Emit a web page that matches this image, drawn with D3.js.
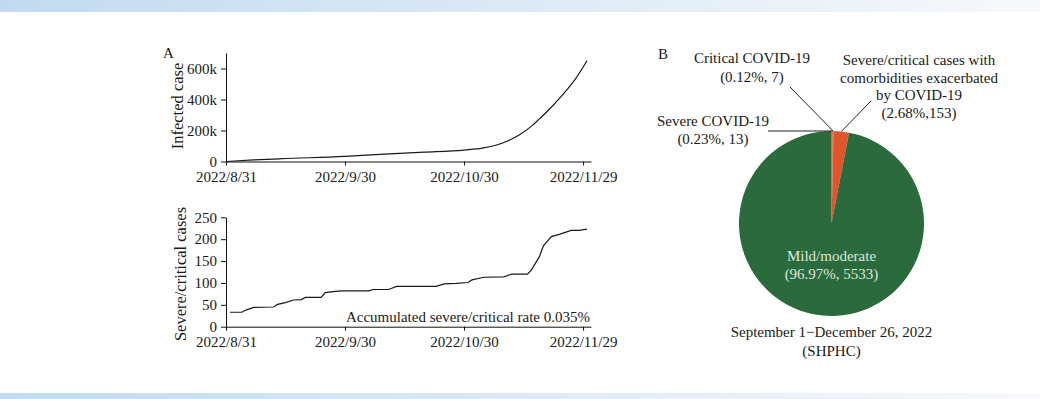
<!DOCTYPE html>
<html>
<head>
<meta charset="utf-8">
<script src="https://cdn.jsdelivr.net/npm/d3@7"></script>
<style>
body { margin: 0; background: #fff; }
svg { display: block; }
text { font-family: "Liberation Serif", "Times New Roman", serif; fill: #1a1a1a; }
</style>
</head>
<body>
<div id="my_dataviz"></div>
<script>
// --- data ---
var infected_dates = ['2022-08-31', '2022-09-07', '2022-09-14', '2022-09-30', '2022-10-10', '2022-10-20',
    '2022-10-30', '2022-11-04', '2022-11-07', '2022-11-10', '2022-11-13', '2022-11-16', '2022-11-18',
    '2022-11-21', '2022-11-23', '2022-11-25', '2022-11-27', '2022-11-30'];
var infected_values = [0, 10000, 18000, 33000, 48000, 60000, 74000, 88000, 105000, 132000, 172000,
    228000, 275000, 350000, 405000, 465000, 530000, 650000];

var severe_dates = ['2022-09-01', '2022-09-04', '2022-09-05', '2022-09-07', '2022-09-12', '2022-09-13',
    '2022-09-15', '2022-09-17', '2022-09-19', '2022-09-20', '2022-09-24', '2022-09-25', '2022-09-27',
    '2022-09-29', '2022-10-06', '2022-10-07', '2022-10-11', '2022-10-13', '2022-10-23', '2022-10-25',
    '2022-10-28', '2022-10-31', '2022-11-01', '2022-11-04', '2022-11-09', '2022-11-10', '2022-11-11',
    '2022-11-15', '2022-11-16', '2022-11-18', '2022-11-19', '2022-11-21', '2022-11-23', '2022-11-26',
    '2022-11-28', '2022-11-30'];
var severe_values = [33, 33, 38, 44, 45, 51, 55, 61, 62, 67, 67, 78, 80, 82, 82, 85, 85, 92, 92, 98,
    99, 101, 107, 113, 114, 117, 120, 120, 130, 160, 185, 206, 211, 220, 220, 223];

var x_tick_labels = ['2022/8/31', '2022/9/30', '2022/10/30', '2022/11/29'];
var infected_ticks = [0, 200000, 400000, 600000];
var severe_ticks = [0, 50, 100, 150, 200, 250];
var rate_note = 'Accumulated severe/critical rate 0.035%';

var pie_names = ['Severe COVID-19', 'Critical COVID-19', 'Severe/critical cases with comorbidities exacerbated by COVID-19', 'Mild/moderate'];
var pie_counts = [13, 7, 153, 5533];
var pie_pcts = ['0.23%', '0.12%', '2.68%', '96.97%'];
var pie_period = ['September 1\u2212December 26, 2022', '(SHPHC)'];

// --- setup ---
var width = 1040;
var height = 399;
var svg = d3.select('#my_dataviz').append('svg').attr('width', width).attr('height', height);

var defs = svg.append('defs');
var grad = defs.append('linearGradient').attr('id', 'band').attr('x1', '0%').attr('x2', '100%');
grad.append('stop').attr('offset', '0%').attr('stop-color', '#c2daf0');
grad.append('stop').attr('offset', '45%').attr('stop-color', '#dae8f5');
grad.append('stop').attr('offset', '100%').attr('stop-color', '#f8f9fb');

svg.append('rect').attr('x', 0).attr('y', 0).attr('width', width).attr('height', 12).attr('fill', 'url(#band)');
svg.append('rect').attr('x', 0).attr('y', 393).attr('width', width).attr('height', 6).attr('fill', 'url(#band)');

var parseDate = d3.timeParse('%Y-%m-%d');
var parseTick = d3.timeParse('%Y/%m/%d');
var tick_dates = x_tick_labels.map(function(s){ return parseTick(s); });

var x = d3.scaleTime().domain([parseDate('2022-08-31'), parseDate('2022-12-01')]).range([226, 591]);

var infected = infected_dates.map(function(d, i){ return {date: parseDate(d), value: infected_values[i]}; });
var severe = severe_dates.map(function(d, i){ return {date: parseDate(d), value: severe_values[i]}; });

function xAxis(g){
    g.call(d3.axisBottom(x).tickValues(tick_dates)
        .tickFormat(function(d, i){ return x_tick_labels[i]; })
        .tickSize(4).tickSizeOuter(0).tickPadding(6));
}

function styleAxis(g){
    g.selectAll('path, line').attr('stroke', '#111').attr('stroke-width', 1);
    g.selectAll('text').attr('font-size', 15).attr('font-family', '"Liberation Serif", serif').attr('fill', '#1a1a1a');
}

// --- panel A top: infected cases ---
var y1 = d3.scaleLinear().domain([0, 700000]).range([161.5, 53]);

var top_group = svg.append('g').attr('class', 'top_group');
top_group.append('g').attr('transform', 'translate(0,161.5)').call(xAxis).call(styleAxis);
top_group.append('g').attr('transform', 'translate(226,0)')
    .call(d3.axisLeft(y1).tickValues(infected_ticks)
        .tickFormat(function(d){ return d === 0 ? '0' : (d / 1000) + 'k'; })
        .tickSize(5).tickSizeOuter(0).tickPadding(4))
    .call(styleAxis);

top_group.append('path').datum(infected)
    .attr('d', d3.line().x(function(d){ return x(d.date); }).y(function(d){ return y1(d.value); }).curve(d3.curveMonotoneX))
    .attr('fill', 'none').attr('stroke', '#1a1a1a').attr('stroke-width', 1.2);

top_group.append('text').attr('transform', 'translate(182.5,106) rotate(-90)')
    .attr('text-anchor', 'middle').attr('font-size', 16.5).text('Infected case');

svg.append('text').attr('x', 163).attr('y', 58).attr('font-size', 15).text('A');

// --- panel A bottom: severe/critical cases ---
var y2 = d3.scaleLinear().domain([0, 250]).range([326.7, 217.3]);

var bot_group = svg.append('g').attr('class', 'bot_group');
bot_group.append('g').attr('transform', 'translate(0,326.7)').call(xAxis).call(styleAxis);
bot_group.append('g').attr('transform', 'translate(226,0)')
    .call(d3.axisLeft(y2).tickValues(severe_ticks).tickSize(5).tickSizeOuter(0).tickPadding(4))
    .call(styleAxis);

bot_group.append('path').datum(severe)
    .attr('d', d3.line().x(function(d){ return x(d.date); }).y(function(d){ return y2(d.value); }))
    .attr('fill', 'none').attr('stroke', '#1a1a1a').attr('stroke-width', 1.2);

bot_group.append('text').attr('transform', 'translate(185.5,274) rotate(-90)')
    .attr('text-anchor', 'middle').attr('font-size', 16.5).text('Severe/critical cases');

bot_group.append('text').attr('x', 590).attr('y', 322).attr('text-anchor', 'end')
    .attr('font-size', 15).text(rate_note);

// --- panel B: pie ---
var cx = 831.5, cy = 223.5, radius = 92.5;
var pie_data = pie_counts.map(function(c, i){ return {name: pie_names[i], count: c, pct: pie_pcts[i]}; });
var arcs = d3.pie().sort(null).value(function(d){ return d.count; }).startAngle(0)(pie_data);
var arc = d3.arc().innerRadius(0).outerRadius(radius);
var pie_colour = ['#e0552b', '#e0552b', '#e0552b', '#2b6a3d'];

var pie_group = svg.append('g').attr('transform', 'translate(' + cx + ',' + cy + ')');
pie_group.selectAll('.slice').data(arcs).enter().append('path')
    .attr('class', 'slice')
    .attr('d', arc)
    .attr('fill', function(d, i){ return pie_colour[i]; });

svg.append('text').attr('x', 663).attr('y', 59).attr('text-anchor', 'middle').attr('font-size', 15).text('B');

// leader lines from labels to the slice edge
function edgePoint(a){
    var m = (a.startAngle + a.endAngle) / 2;
    return [cx + radius * Math.sin(m), cy - radius * Math.cos(m)];
}
var leaders = [[768, edgePoint(arcs[0])[1]], [790, 87], [871, 101]];
var line_group = svg.append('g').attr('class', 'leaders');
for (var i = 0; i < 3; i++){
    var p = edgePoint(arcs[i]);
    line_group.append('line').attr('x1', leaders[i][0]).attr('y1', leaders[i][1])
        .attr('x2', p[0]).attr('y2', p[1])
        .attr('stroke', '#222').attr('stroke-width', 1);
}

var lab = svg.append('g').attr('class', 'pie_labels').attr('font-size', 15);
lab.append('text').attr('x', 752).attr('y', 63).attr('text-anchor', 'middle').text(pie_names[1]);
lab.append('text').attr('x', 752).attr('y', 82).attr('text-anchor', 'middle').text('(' + pie_pcts[1] + ', ' + pie_counts[1] + ')');
lab.append('text').attr('x', 713).attr('y', 126).attr('text-anchor', 'middle').text(pie_names[0]);
lab.append('text').attr('x', 713).attr('y', 144).attr('text-anchor', 'middle').text('(' + pie_pcts[0] + ', ' + pie_counts[0] + ')');

var comorb_lines = ['Severe/critical cases with', 'comorbidities exacerbated', 'by COVID-19', '(' + pie_pcts[2] + ',' + pie_counts[2] + ')'];
lab.selectAll('.comorb').data(comorb_lines).enter().append('text')
    .attr('class', 'comorb')
    .attr('x', 919).attr('y', function(d, i){ return 65 + i * 17.5; })
    .attr('text-anchor', 'middle').text(function(d){ return d; });

lab.append('text').attr('x', cx).attr('y', cy + 37).attr('text-anchor', 'middle')
    .style('fill', '#dce8dc').text(pie_names[3]);
lab.append('text').attr('x', cx).attr('y', cy + 55).attr('text-anchor', 'middle')
    .style('fill', '#dce8dc').text('(' + pie_pcts[3] + ', ' + pie_counts[3] + ')');

lab.selectAll('.period').data(pie_period).enter().append('text')
    .attr('class', 'period')
    .attr('x', cx).attr('y', function(d, i){ return 337 + i * 18.5; })
    .attr('text-anchor', 'middle').text(function(d){ return d; });
</script>
</body>
</html>
